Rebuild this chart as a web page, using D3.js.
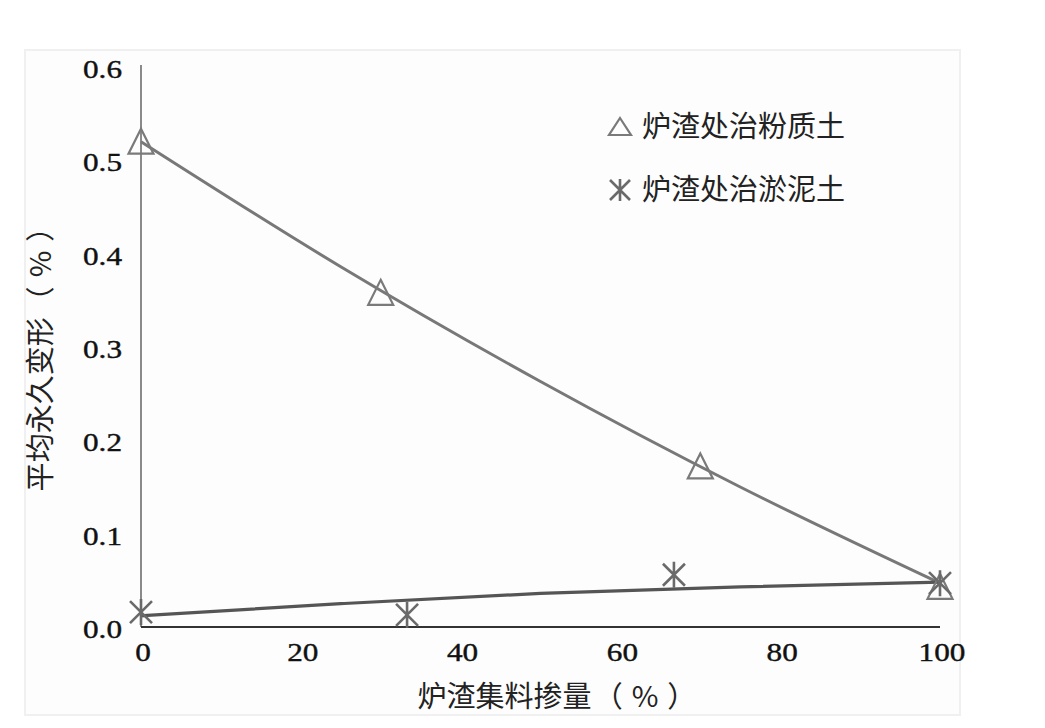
<!DOCTYPE html>
<html><head><meta charset="utf-8">
<script src="https://cdn.jsdelivr.net/npm/d3@7"></script>
<style>body{margin:0;background:#fff;} svg{display:block}</style>
</head><body><svg id="c" width="1045" height="728"></svg>
<script>
// ---- data ----
const xTicks = [0, 20, 40, 60, 80, 100];
const xTickLabels = ["0", "20", "40", "60", "80", "100"];
const yTicks = [0.0, 0.1, 0.2, 0.3, 0.4, 0.5, 0.6];
const yTickLabels = ["0.0", "0.1", "0.2", "0.3", "0.4", "0.5", "0.6"];
const seriesNames = ["炉渣处治粉质土", "炉渣处治淤泥土"];
const siltX = [0, 30, 70, 100];
const siltY = [0.52, 0.358, 0.172, 0.043];
const mudX = [0, 33.3, 66.7, 100];
const mudY = [0.016, 0.013, 0.056, 0.047];
const fitX = [0, 25, 50, 75, 100];
const siltFit = [0.52, 0.386, 0.263, 0.150, 0.047];
const mudFit = [0.012, 0.025, 0.036, 0.043, 0.048];
const xTitleParts = ["炉渣集料掺量", "（", "%", "）"];
const yTitleParts = ["平均永久变形", "（", "%", "）"];

// ---- drawing ----
const svg = d3.select("#c");
const x = d3.scaleLinear().domain([0, 100]).range([141, 940]);
const y = d3.scaleLinear().domain([0, 0.6]).range([627, 67]);
const cjk = "'Noto Sans CJK SC', 'Noto Sans', sans-serif";
const serif = "'Liberation Serif', 'DejaVu Serif', serif";

// faint panel
svg.append("rect").attr("x", 25).attr("y", 50).attr("width", 935).attr("height", 665)
  .attr("fill", "#fdfdfd").attr("stroke", "#f0f0f0").attr("stroke-width", 2);

// axes
svg.append("line").attr("x1", x(0)).attr("x2", x(0)).attr("y1", y(0.6) - 2).attr("y2", y(0))
  .attr("stroke", "#8a8a8a").attr("stroke-width", 2);
svg.append("line").attr("x1", x(0)).attr("x2", x(100)).attr("y1", y(0)).attr("y2", y(0))
  .attr("stroke", "#333").attr("stroke-width", 2);

// tick labels
svg.append("g").selectAll("text").data(yTicks).join("text")
  .attr("transform", d => `translate(122,${y(d) + 11}) scale(1.2,1)`)
  .attr("text-anchor", "end").attr("font-family", serif).attr("font-size", 26)
  .attr("fill", "#111").attr("stroke", "#111").attr("stroke-width", 0.4)
  .text((d, i) => yTickLabels[i]);
svg.append("g").selectAll("text").data(xTicks).join("text")
  .attr("transform", d => `translate(${x(d) + 2},661) scale(1.2,1)`)
  .attr("text-anchor", "middle").attr("font-family", serif).attr("font-size", 26)
  .attr("fill", "#111").attr("stroke", "#111").attr("stroke-width", 0.4)
  .text((d, i) => xTickLabels[i]);

// titles (spaced full-width parentheses)
function title(sel, parts) {
  const dxs = [0, 2, 9, 9];
  sel.selectAll("tspan").data(parts).join("tspan").attr("dx", (d, i) => dxs[i]).text(d => d);
}
title(svg.append("text").attr("x", 557).attr("y", 707).attr("text-anchor", "middle")
  .attr("font-family", cjk).attr("font-size", 29).attr("fill", "#222"), xTitleParts);
title(svg.append("text").attr("transform", "translate(51,352) rotate(-90)").attr("text-anchor", "middle")
  .attr("font-family", cjk).attr("font-size", 29).attr("fill", "#222"), yTitleParts);

// fit lines
const line = d3.line().curve(d3.curveMonotoneX);
svg.append("path").attr("d", line(fitX.map((v, i) => [x(v), y(siltFit[i])])))
  .attr("fill", "none").attr("stroke", "#787878").attr("stroke-width", 3);
svg.append("path").attr("d", line(fitX.map((v, i) => [x(v), y(mudFit[i])])))
  .attr("fill", "none").attr("stroke", "#555").attr("stroke-width", 3.2);

// markers
const triPath = "M0,-13 L12.5,12 L-12.5,12 Z";
const starPath = "M-11,-11 L11,11 M11,-11 L-11,11 M0,-13 L0,13";
svg.append("g").selectAll("path").data(siltX).join("path")
  .attr("transform", (d, i) => `translate(${x(d)},${y(siltY[i])})`)
  .attr("d", triPath).attr("fill", "none").attr("stroke", "#7a7a7a").attr("stroke-width", 2.2);
svg.append("g").selectAll("path").data(mudX).join("path")
  .attr("transform", (d, i) => `translate(${x(d)},${y(mudY[i])})`)
  .attr("d", starPath).attr("fill", "none").attr("stroke", "#6a6a6a").attr("stroke-width", 2.6);

// legend
const leg = svg.append("g");
leg.append("path").attr("transform", "translate(620,127)").attr("d", "M0,-9 L11,8 L-11,8 Z")
  .attr("fill", "none").attr("stroke", "#7a7a7a").attr("stroke-width", 2.2);
leg.append("path").attr("transform", "translate(620,190)").attr("d", "M-10,-10 L10,10 M10,-10 L-10,10 M0,-11 L0,11")
  .attr("fill", "none").attr("stroke", "#6a6a6a").attr("stroke-width", 2.6);
leg.selectAll("text").data(seriesNames).join("text")
  .attr("x", 642).attr("y", (d, i) => 137 + i * 63)
  .attr("font-family", cjk).attr("font-size", 29).attr("fill", "#222").text(d => d);
</script></body></html>
